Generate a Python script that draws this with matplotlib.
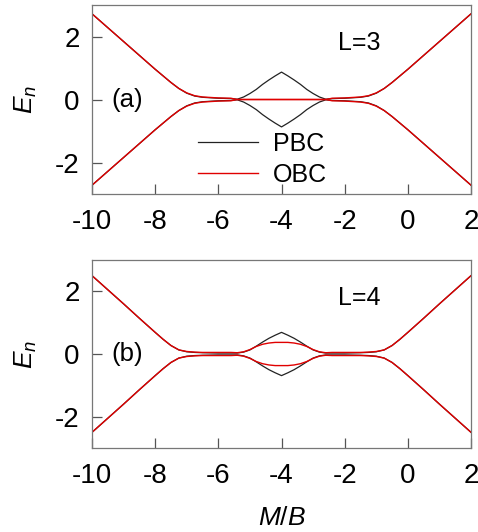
import matplotlib
matplotlib.use("Agg")
import matplotlib.pyplot as plt
import numpy as np

plt.rcParams['font.family'] = ['Liberation Sans', 'DejaVu Sans']
plt.rcParams['mathtext.fontset'] = 'custom'
plt.rcParams['mathtext.it'] = 'Liberation Sans:italic'
plt.rcParams['mathtext.rm'] = 'Liberation Sans'

# M/B sample points
mb = [-10, -9.5, -9, -8.5, -8, -7.75, -7.5, -7.25, -7, -6.75, -6.5, -6, -5.6,
      -5.4, -5.2, -5.0, -4.8, -4.6, -4.4, -4.2, -4.0,
      -3.8, -3.6, -3.4, -3.2, -3.0, -2.8, -2.6, -2.4, -2, -1.5, -1.25, -1,
      -0.75, -0.5, -0.25, 0, 0.5, 1, 1.5, 2]

# (a) L=3, upper branch (spectrum is +/- symmetric)
pbc3 = [2.72, 2.28, 1.84, 1.40, 0.96, 0.75, 0.54, 0.35, 0.20, 0.11, 0.07, 0.04, 0.03,
        0.01, 0.08, 0.19, 0.32, 0.48, 0.62, 0.75, 0.87,
        0.75, 0.62, 0.48, 0.32, 0.19, 0.08, 0.01, 0.03, 0.04, 0.07, 0.11, 0.20,
        0.35, 0.54, 0.75, 0.96, 1.40, 1.84, 2.28, 2.72]
obc3 = [2.72, 2.28, 1.84, 1.40, 0.96, 0.75, 0.54, 0.35, 0.21, 0.12, 0.08, 0.05, 0.04,
        0.0, 0.0, 0.0, 0.0, 0.0, 0.0, 0.0, 0.0,
        0.0, 0.0, 0.0, 0.0, 0.0, 0.0, 0.0, 0.04, 0.05, 0.08, 0.12, 0.21,
        0.35, 0.54, 0.75, 0.96, 1.40, 1.84, 2.28, 2.72]

# (b) L=4, upper branch
pbc4 = [2.50, 2.05, 1.60, 1.14, 0.69, 0.47, 0.27, 0.13, 0.07, 0.05, 0.04, 0.03, 0.03,
        0.03, 0.06, 0.13, 0.25, 0.38, 0.50, 0.60, 0.69,
        0.60, 0.50, 0.38, 0.25, 0.13, 0.06, 0.03, 0.03, 0.03, 0.04, 0.05, 0.07,
        0.13, 0.27, 0.47, 0.69, 1.14, 1.60, 2.05, 2.50]
obc4 = [2.50, 2.05, 1.60, 1.14, 0.69, 0.47, 0.27, 0.13, 0.08, 0.06, 0.05, 0.05, 0.05,
        0.04, 0.07, 0.14, 0.24, 0.31, 0.35, 0.37, 0.37,
        0.37, 0.35, 0.31, 0.24, 0.14, 0.07, 0.04, 0.05, 0.05, 0.05, 0.06, 0.08,
        0.13, 0.27, 0.47, 0.69, 1.14, 1.60, 2.05, 2.50]

xticks = [-10, -8, -6, -4, -2, 0, 2]
yticks = [-2, 0, 2]

fig = plt.figure(figsize=(4.78, 5.32), dpi=100)
ax1 = fig.add_axes([0.1925, 0.6353, 0.7929, 0.3553])
ax2 = fig.add_axes([0.1925, 0.1579, 0.7929, 0.3534])

panels = [(ax1, pbc3, obc3, "L=3", "(a)"), (ax2, pbc4, obc4, "L=4", "(b)")]
for ax, p, o, ltxt, tag in panels:
    p = np.array(p)
    o = np.array(o)
    ax.plot(mb, p, color='#222222', lw=0.9, label='PBC')
    ax.plot(mb, -p, color='#222222', lw=0.9)
    ax.plot(mb, o, color='#e00000', lw=1.0, label='OBC')
    ax.plot(mb, -o, color='#e00000', lw=1.0)
    ax.set_xlim(-10, 2)
    ax.set_ylim(-3, 3)
    ax.set_xticks(xticks)
    ax.set_xticklabels([str(t) for t in xticks])
    ax.set_yticks(yticks)
    ax.set_yticklabels([str(t) for t in yticks])
    ax.tick_params(direction='in', length=7.5, width=0.9, color='#555555',
                   labelsize=20, top=False, right=False)
    ax.tick_params(axis='x', pad=11)
    ax.tick_params(axis='y', pad=9)
    for s in ax.spines.values():
        s.set_color('#777777')
        s.set_linewidth(0.9)
    ax.text(-2.22, 1.78, ltxt, fontsize=18, va='center', ha='left')
    ax.text(-9.4, 0.0, tag, fontsize=18.5, va='center', ha='left')
    ax.set_ylabel('$E_n$', fontsize=19)
    ax.yaxis.set_label_coords(-0.14, 0.5)

ax1.legend(loc='upper left', bbox_to_anchor=(0.279, 0.33), frameon=False,
           fontsize=18, handlelength=2.4, handletextpad=0.6,
           borderpad=0, borderaxespad=0, labelspacing=0.28)
ax2.set_xlabel('$M/B$', fontsize=19)
ax2.xaxis.set_label_coords(0.5, -0.31)

fig.savefig('out.png', dpi=100)
